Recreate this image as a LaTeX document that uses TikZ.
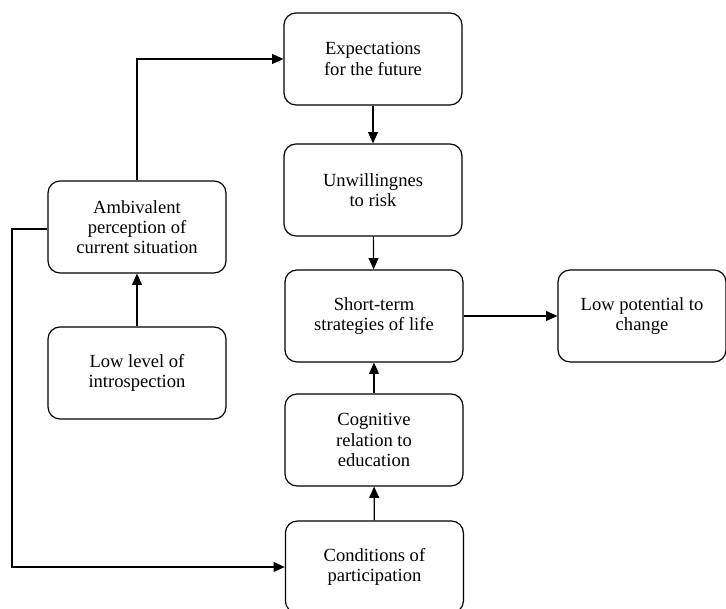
\documentclass[tikz,border=0pt]{standalone}
\usepackage{fontspec}
\setmainfont{Liberation Serif}
\usetikzlibrary{arrows.meta,positioning}

\begin{document}
\begin{tikzpicture}[
    factor/.style={rectangle, draw, rounded corners=0.3cm, minimum width=4.45cm, minimum height=2.3cm, align=center, font=\fontsize{13.2}{14.3}\selectfont},
    >={Triangle[length=8pt,width=7pt]}, line width=0.85pt
]
    \useasboundingbox (0,0) rectangle (18.15,15.225);

    \node[factor] (expect) at (9.325,13.75) {Expectations\\for the future};
    \node[factor] (unwill) at (9.325,10.475) {Unwillingnes\\to risk};
    \node[factor] (short) at (9.35,7.325) {Short-term\\strategies of life};
    \node[factor, minimum width=4.2cm] (lowpot) at (16.05,7.325) {Low potential to\\change};
    \node[factor] (cognit) at (9.35,4.225) {Cognitive\\relation to\\education};
    \node[factor] (cond) at (9.36,1.05) {Conditions of\\participation};
    \node[factor] (ambiv) at (3.425,9.55) {Ambivalent\\perception of\\current situation};
    \node[factor] (lowlev) at (3.425,5.9) {Low level of\\introspection};

    \coordinate (bend) at (0.3,9.5);

    \draw[->] (ambiv.north) |- (expect.west);
    \draw[->] (expect) -- (unwill);
    \draw[->] (unwill) -- (short);
    \draw[->] (short) -- (lowpot);
    \draw[->] (cognit) -- (short);
    \draw[->] (cond) -- (cognit);
    \draw[->] (lowlev) -- (ambiv);
    \draw[->] (ambiv.west |- bend) -- (bend) |- (cond.west);
\end{tikzpicture}
\end{document}
